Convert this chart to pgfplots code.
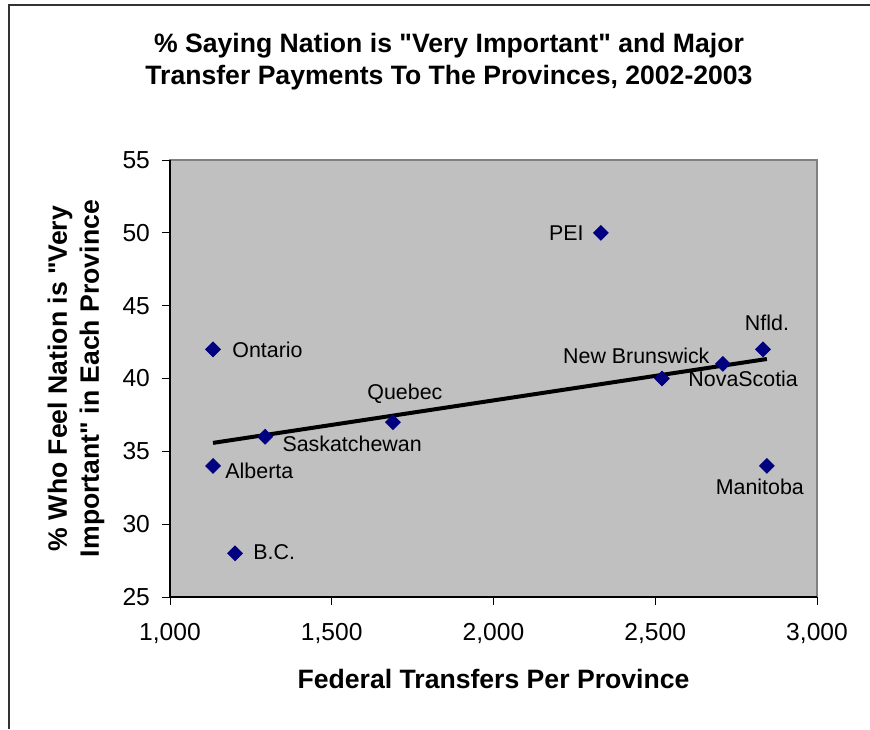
\documentclass[border=0pt]{standalone}
\usepackage{pgfplots}
\pgfplotsset{compat=1.18}
\usepackage{pgfplotstable}
\usepackage{fontspec}
\setmainfont{Liberation Sans}
\definecolor{plotgray}{HTML}{C0C0C0}
\definecolor{navy}{HTML}{000080}
\definecolor{bordergray}{HTML}{808080}

\pgfplotstableread{
x y
1133 42
1133 34
1201 28
1294 36
1689 37
2332 50
2521 40
2709 41
2833 42
2845 34
}\datatable

\pgfplotstableread{
x y
1133 35.58
2845 41.34
}\trendtable

\begin{document}
\begin{tikzpicture}[lbl/.style={inner sep=0pt, font=\fontsize{10.7}{12}\selectfont, text=black}]
\useasboundingbox (0,0) rectangle (435pt,364.5pt);
\draw[line width=1pt, black!80] (4.25pt,0pt) -- (4.25pt,362pt) -- (435pt,362pt);
\node[align=center, font=\bfseries\fontsize{13.3}{16}\selectfont] at (224.5pt,333.75pt)
  {\% Saying Nation is \textquotedbl Very Important\textquotedbl{} and Major\\Transfer Payments To The Provinces, 2002-2003};
\begin{axis}[
  at={(85pt,66pt)}, anchor=south west,
  scale only axis, width=323.5pt, height=218.5pt,
  xmin=1000, xmax=3000, ymin=25, ymax=55,
  xtick={1000,1500,2000,2500,3000},
  ytick={25,30,35,40,45,50,55},
  axis lines*=left,
  axis line style={-, line width=0.8pt, black},
  axis background/.style={fill=plotgray, draw=bordergray, line width=0.6pt},
  tick align=outside, major tick length=4pt,
  tick style={black, line width=0.5pt},
  ticklabel style={font=\fontsize{12.3}{14}\selectfont},
  yticklabel style={xshift=-2.5pt},
  xticklabel style={yshift=-5.5pt},
  /pgf/number format/.cd, 1000 sep={,}, assume math mode=true,
  /pgfplots/.cd,
  xlabel={Federal Transfers Per Province},
  ylabel={\% Who Feel Nation is \textquotedbl Very\\Important\textquotedbl{} in Each Province},
  every axis x label/.style={at={(rel axis cs:0.5,0)}, anchor=center, yshift=-41pt, font=\bfseries\fontsize{13.3}{16}\selectfont},
  every axis y label/.style={at={(rel axis cs:0,0.5)}, anchor=center, rotate=90, yshift=47pt, align=center, font=\bfseries\fontsize{13.3}{16}\selectfont},
  clip=false,
]
\addplot[only marks, mark=square*, mark size=2.6pt,
  mark options={fill=navy, draw=navy, rotate=45}] table[x=x, y=y] {\datatable};
\addplot[black, line width=2pt] table[x=x, y=y] {\trendtable};
\node[lbl, anchor=west, xshift=9.5pt] at (axis cs:1133,42) {Ontario};
\node[lbl, anchor=west, xshift=6pt, yshift=-2.5pt] at (axis cs:1133,34) {Alberta};
\node[lbl, anchor=west, xshift=9pt, yshift=0.5pt] at (axis cs:1201,28) {B.C.};
\node[lbl, anchor=west, xshift=8.5pt, yshift=-3.5pt] at (axis cs:1294,36) {Saskatchewan};
\node[lbl, anchor=center, xshift=6pt, yshift=14pt] at (axis cs:1689,37) {Quebec};
\node[lbl, anchor=east, xshift=-8.5pt] at (axis cs:2332,50) {PEI};
\node[lbl, anchor=west, xshift=13pt] at (axis cs:2521,40) {NovaScotia};
\node[lbl, anchor=east, xshift=-6.5pt, yshift=4pt] at (axis cs:2709,41) {New Brunswick};
\node[lbl, anchor=center, xshift=2pt, yshift=13.5pt] at (axis cs:2833,42) {Nfld.};
\node[lbl, anchor=center, xshift=-3.5pt, yshift=-10.5pt] at (axis cs:2845,34) {Manitoba};
\end{axis}
\end{tikzpicture}
\end{document}
